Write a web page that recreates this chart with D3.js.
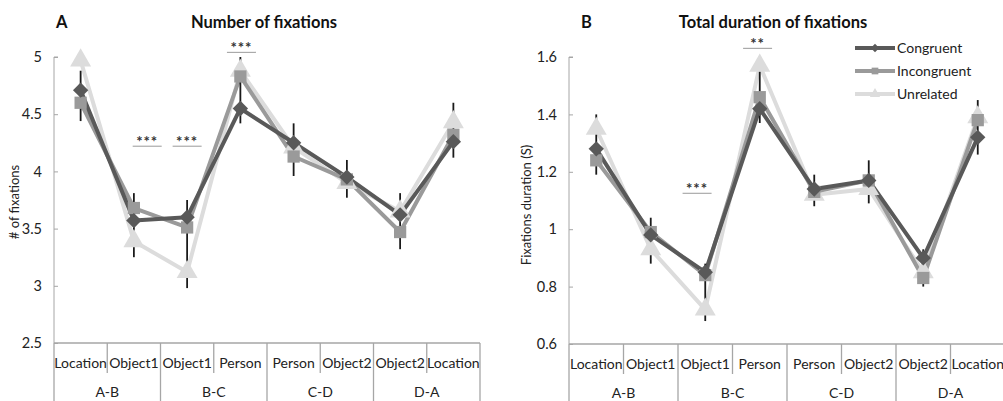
<!DOCTYPE html>
<html>
<head>
<meta charset="utf-8">
<script src="https://cdn.jsdelivr.net/npm/d3@7"></script>
<style>
  body { margin: 0; background: #fff; }
  svg { display: block; font-family: Lato, "Open Sans", sans-serif; }
</style>
</head>
<body>
<div id="chart"></div>
<script>
// categories along the x axis (two rows)
var categories = ["Location", "Object1", "Object1", "Person", "Person", "Object2", "Object2", "Location"];
var groups = ["A-B", "B-C", "C-D", "D-A"];
var seriesNames = ["Congruent", "Incongruent", "Unrelated"];

// panel A - number of fixations
var fixCongruent   = [4.71, 3.57, 3.60, 4.55, 4.25, 3.95, 3.62, 4.26];
var fixIncongruent = [4.60, 3.68, 3.51, 4.83, 4.13, 3.93, 3.47, 4.32];
var fixUnrelated   = [4.97, 3.39, 3.12, 4.88, 4.21, 3.90, 3.65, 4.43];
var fixErrLow  = [4.44, 3.25, 2.98, 4.42, 3.96, 3.77, 3.32, 4.12];
var fixErrHigh = [4.88, 3.81, 3.75, 5.00, 4.42, 4.10, 3.81, 4.60];
var fixTicks = [2.5, 3, 3.5, 4, 4.5, 5];
// significance: position in category units, y value, label
var fixSig = [{pos: 1.75, y: 4.22, label: "***"}, {pos: 2.5, y: 4.22, label: "***"}, {pos: 3.52, y: 5.04, label: "***"}];

// panel B - total duration of fixations
var durCongruent   = [1.28, 0.98, 0.85, 1.42, 1.14, 1.17, 0.90, 1.32];
var durIncongruent = [1.24, 0.99, 0.84, 1.46, 1.13, 1.17, 0.83, 1.38];
var durUnrelated   = [1.35, 0.93, 0.72, 1.57, 1.12, 1.14, 0.85, 1.39];
var durErrLow  = [1.19, 0.88, 0.68, 1.37, 1.08, 1.09, 0.80, 1.26];
var durErrHigh = [1.40, 1.04, 0.88, 1.55, 1.19, 1.24, 0.93, 1.45];
var durTicks = [0.6, 0.8, 1, 1.2, 1.4, 1.6];
var durSig = [{pos: 2.35, y: 1.125, label: "***"}, {pos: 3.46, y: 1.63, label: "**"}];

var colors = ["#595959", "#9a9a9a", "#dcdcdc"];
var shapes = [d3.symbolDiamond2, d3.symbolSquare, d3.symbolTriangle];
var axisColor = "#a6a6a6";

var svg = d3.select("#chart").append("svg")
    .attr("width", 1003)
    .attr("height", 401);

function drawPanel(opts) {
  var g = svg.append("g");
  var series = opts.series;

  var xScale = d3.scaleLinear().domain([0, categories.length]).range([opts.left, opts.right]);
  var yScale = d3.scaleLinear().domain(opts.yDomain).range([opts.bottom, opts.top]);
  var cx = i => xScale(i + 0.5);

  // panel letter and title
  g.append("text")
      .attr("x", opts.letterX).attr("y", 28)
      .attr("font-weight", "bold").attr("font-size", 16.5).attr("fill", "#111")
      .text(opts.letter);
  g.append("text")
      .attr("x", opts.titleX).attr("y", 28)
      .attr("text-anchor", "middle")
      .attr("font-weight", "bold").attr("font-size", 16.5).attr("fill", "#111")
      .text(opts.title);

  // y axis, ticks pointing inward
  var yAxis = d3.axisRight(yScale).tickValues(opts.ticks).tickSize(4).tickFormat(d => d);
  g.append("g")
      .attr("transform", `translate(${opts.left},0)`)
      .call(yAxis)
      .call(a => a.select(".domain").attr("stroke", axisColor).attr("d", `M4,${opts.top}H0V${opts.bottom}`))
      .call(a => a.selectAll(".tick line").attr("stroke", axisColor))
      .call(a => a.selectAll(".tick text")
          .attr("x", -12).attr("text-anchor", "end")
          .attr("font-size", 14.5).attr("fill", "#222")
          .attr("font-family", "Lato, sans-serif"));

  // y label
  g.append("text")
      .attr("transform", `translate(${opts.yLabelX},${opts.yLabelY}) rotate(-90)`)
      .attr("text-anchor", "middle")
      .attr("font-size", 13).attr("fill", "#222")
      .text(opts.yLabel);

  // category axis: baseline and dividers
  var axisG = g.append("g").attr("stroke", axisColor).attr("stroke-width", 1.3);
  axisG.append("line")
      .attr("x1", opts.left).attr("x2", opts.right)
      .attr("y1", opts.bottom).attr("y2", opts.bottom);
  d3.range(categories.length + 1).forEach(i => {
    axisG.append("line")
        .attr("x1", xScale(i)).attr("x2", xScale(i))
        .attr("y1", opts.bottom)
        .attr("y2", i % 2 === 0 ? 401 : opts.bottom + 30);
  });
  g.selectAll(".cat")
    .data(categories)
    .enter().append("text")
      .attr("x", (d, i) => cx(i))
      .attr("y", opts.bottom + 25)
      .attr("text-anchor", "middle")
      .attr("font-size", 14).attr("fill", "#222")
      .text(d => d);
  g.selectAll(".grp")
    .data(groups)
    .enter().append("text")
      .attr("x", (d, i) => xScale(i * 2 + 1))
      .attr("y", opts.bottom + 54)
      .attr("text-anchor", "middle")
      .attr("font-size", 14).attr("fill", "#222")
      .text(d => d);

  // lines
  var line = d3.line().x((d, i) => cx(i)).y(d => yScale(d));
  for (var s = series.length - 1; s >= 0; s--) {
    g.append("path")
        .attr("d", line(series[s]))
        .attr("fill", "none")
        .attr("stroke", colors[s])
        .attr("stroke-width", 4)
        .attr("stroke-linejoin", "round");
  }

  // error bars
  g.selectAll(".err")
    .data(opts.errLow)
    .enter().append("line")
      .attr("x1", (d, i) => cx(i)).attr("x2", (d, i) => cx(i))
      .attr("y1", d => yScale(d))
      .attr("y2", (d, i) => yScale(opts.errHigh[i]))
      .attr("stroke", "#1a1a1a")
      .attr("stroke-width", 1.8);

  // markers
  var sizes = [150, 150, 190];
  for (var s2 = series.length - 1; s2 >= 0; s2--) {
    g.selectAll(".m" + s2)
      .data(series[s2])
      .enter().append("path")
        .attr("transform", (d, i) => `translate(${cx(i)},${yScale(d)})`)
        .attr("d", d3.symbol().type(shapes[s2]).size(sizes[s2]))
        .attr("fill", colors[s2]);
  }

  // significance markers
  opts.sig.forEach(d => {
    var x = xScale(d.pos), y = yScale(d.y);
    g.append("line")
        .attr("x1", x - 14.5).attr("x2", x + 14.5)
        .attr("y1", y).attr("y2", y)
        .attr("stroke", "#aaa").attr("stroke-width", 1.2);
    g.append("text")
        .attr("x", x).attr("y", y + 1)
        .attr("text-anchor", "middle")
        .attr("font-size", 15).attr("font-weight", "bold").attr("fill", "#333")
        .attr("letter-spacing", 1)
        .text(d.label);
  });

  return {xScale: xScale, yScale: yScale};
}

drawPanel({
  series: [fixCongruent, fixIncongruent, fixUnrelated],
  errLow: fixErrLow, errHigh: fixErrHigh,
  ticks: fixTicks, yDomain: [2.5, 5],
  left: 54, right: 480, top: 57, bottom: 343,
  letter: "A", letterX: 56, title: "Number of fixations", titleX: 264,
  yLabel: "# of fixations", yLabelX: 19, yLabelY: 202,
  sig: fixSig
});

drawPanel({
  series: [durCongruent, durIncongruent, durUnrelated],
  errLow: durErrLow, errHigh: durErrHigh,
  ticks: durTicks, yDomain: [0.6, 1.6],
  left: 569, right: 1005, top: 57, bottom: 344,
  letter: "B", letterX: 581, title: "Total duration of fixations", titleX: 773,
  yLabel: "Fixations  duration (S)", yLabelX: 531, yLabelY: 205,
  sig: durSig
});

// legend
var legend = svg.append("g").attr("transform", "translate(855,48)");
seriesNames.forEach((name, i) => {
  var row = legend.append("g").attr("transform", `translate(0,${i * 23})`);
  row.append("line")
      .attr("x1", 0).attr("x2", 40)
      .attr("stroke", colors[i]).attr("stroke-width", 4);
  row.append("path")
      .attr("transform", "translate(20,0)")
      .attr("d", d3.symbol().type(shapes[i]).size(45))
      .attr("fill", colors[i]);
  row.append("text")
      .attr("x", 42).attr("y", 5)
      .attr("font-size", 14).attr("fill", "#222")
      .text(name);
});
</script>
</body>
</html>
